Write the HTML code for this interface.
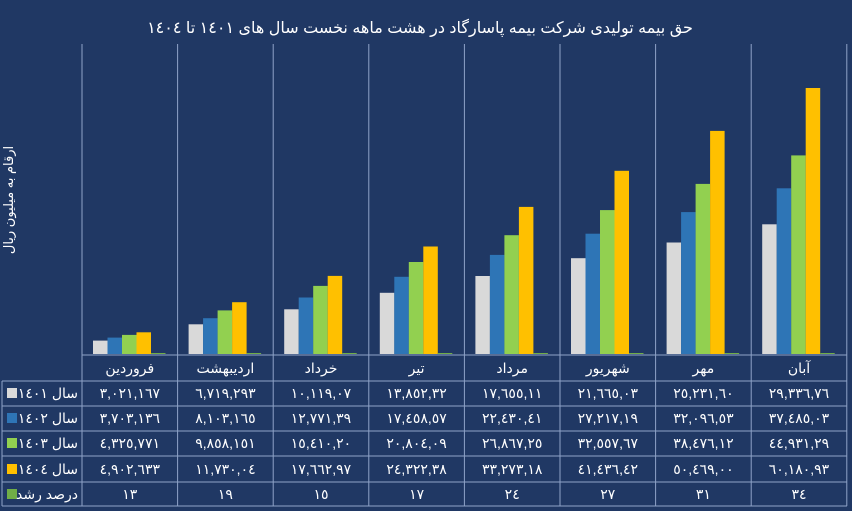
<!DOCTYPE html>
<html><head><meta charset="utf-8"><style>
html,body{margin:0;padding:0;background:#203864;}
svg{display:block;font-family:"Liberation Sans","Noto Sans CJK SC","DejaVu Sans",sans-serif;}
</style></head><body>
<svg width="852" height="511" viewBox="0 0 852 511" xmlns="http://www.w3.org/2000/svg">
<rect width="852" height="511" fill="#203864"/>
<text x="420" y="33" fill="#fff" font-size="16" text-anchor="middle" direction="rtl">حق بیمه تولیدی شرکت بیمه پاسارگاد در هشت ماهه نخست سال های ١٤٠١ تا ١٤٠٤</text>
<text transform="translate(13,200) rotate(-90)" fill="#fff" font-size="13" text-anchor="middle" direction="rtl">ارقام به میلیون ریال</text>
<g stroke="#8fa3c8" stroke-width="1">
<line x1="82" y1="44" x2="82" y2="506"/><line x1="177.6" y1="44" x2="177.6" y2="506"/><line x1="273.2" y1="44" x2="273.2" y2="506"/><line x1="368.8" y1="44" x2="368.8" y2="506"/><line x1="464.4" y1="44" x2="464.4" y2="506"/><line x1="560" y1="44" x2="560" y2="506"/><line x1="655.6" y1="44" x2="655.6" y2="506"/><line x1="751.2" y1="44" x2="751.2" y2="506"/><line x1="846.8" y1="44" x2="846.8" y2="506"/>
<line x1="2" y1="381" x2="2" y2="506"/>
<line x1="82" y1="355" x2="847" y2="355"/>
<line x1="2" y1="381" x2="847" y2="381"/><line x1="2" y1="406" x2="847" y2="406"/><line x1="2" y1="431" x2="847" y2="431"/><line x1="2" y1="456" x2="847" y2="456"/><line x1="2" y1="482" x2="847" y2="482"/><line x1="2" y1="506" x2="847" y2="506"/>
</g>
<g>
<rect x="93" y="340.6" width="14.5" height="13.4" fill="#d9d9d9"/><rect x="107.5" y="337.6" width="14.5" height="16.4" fill="#2e75b6"/><rect x="122" y="334.9" width="14.5" height="19.1" fill="#92d050"/><rect x="136.5" y="332.3" width="14.5" height="21.7" fill="#ffc000"/>
<rect x="188.6" y="324.3" width="14.5" height="29.7" fill="#d9d9d9"/><rect x="203.1" y="318.2" width="14.5" height="35.8" fill="#2e75b6"/><rect x="217.6" y="310.4" width="14.5" height="43.6" fill="#92d050"/><rect x="232.1" y="302.2" width="14.5" height="51.8" fill="#ffc000"/>
<rect x="284.2" y="309.3" width="14.5" height="44.7" fill="#d9d9d9"/><rect x="298.7" y="297.5" width="14.5" height="56.5" fill="#2e75b6"/><rect x="313.2" y="285.9" width="14.5" height="68.1" fill="#92d050"/><rect x="327.7" y="275.9" width="14.5" height="78.1" fill="#ffc000"/>
<rect x="379.8" y="292.8" width="14.5" height="61.2" fill="#d9d9d9"/><rect x="394.3" y="276.8" width="14.5" height="77.2" fill="#2e75b6"/><rect x="408.8" y="262" width="14.5" height="92" fill="#92d050"/><rect x="423.3" y="246.5" width="14.5" height="107.5" fill="#ffc000"/>
<rect x="475.4" y="276" width="14.5" height="78" fill="#d9d9d9"/><rect x="489.9" y="254.9" width="14.5" height="99.1" fill="#2e75b6"/><rect x="504.4" y="235.2" width="14.5" height="118.8" fill="#92d050"/><rect x="518.9" y="206.9" width="14.5" height="147.1" fill="#ffc000"/>
<rect x="571" y="258.2" width="14.5" height="95.8" fill="#d9d9d9"/><rect x="585.5" y="233.7" width="14.5" height="120.3" fill="#2e75b6"/><rect x="600" y="210.1" width="14.5" height="143.9" fill="#92d050"/><rect x="614.5" y="170.8" width="14.5" height="183.2" fill="#ffc000"/>
<rect x="666.6" y="242.5" width="14.5" height="111.5" fill="#d9d9d9"/><rect x="681.1" y="212.1" width="14.5" height="141.9" fill="#2e75b6"/><rect x="695.6" y="183.9" width="14.5" height="170.1" fill="#92d050"/><rect x="710.1" y="130.9" width="14.5" height="223.1" fill="#ffc000"/>
<rect x="762.2" y="224.3" width="14.5" height="129.7" fill="#d9d9d9"/><rect x="776.7" y="188.3" width="14.5" height="165.7" fill="#2e75b6"/><rect x="791.2" y="155.4" width="14.5" height="198.6" fill="#92d050"/><rect x="805.7" y="88" width="14.5" height="266" fill="#ffc000"/>
</g>
<g fill="#70ad47">
<rect x="151" y="353" width="14.5" height="1"/><rect x="246.6" y="353" width="14.5" height="1"/><rect x="342.2" y="353" width="14.5" height="1"/><rect x="437.8" y="353" width="14.5" height="1"/><rect x="533.4" y="353" width="14.5" height="1"/><rect x="629" y="353" width="14.5" height="1"/><rect x="724.6" y="353" width="14.5" height="1"/><rect x="820.2" y="353" width="14.5" height="1"/>
</g>
<g fill="#fff" font-size="14" text-anchor="middle" direction="rtl">
<text x="129.8" y="373">فروردین</text><text x="225.4" y="373">اردیبهشت</text><text x="321" y="373">خرداد</text><text x="416.6" y="373">تیر</text><text x="512.2" y="373">مرداد</text><text x="607.8" y="373">شهریور</text><text x="703.4" y="373">مهر</text><text x="799" y="373">آبان</text>
</g>
<g fill="#fff" font-size="14" text-anchor="middle">
<text x="129.8" y="398">٣,٠٢١,١٦٧</text><text x="225.4" y="398">٦,٧١٩,٢٩٣</text><text x="321" y="398">١٠,١١٩,٠٧</text><text x="416.6" y="398">١٣,٨٥٢,٣٢</text><text x="512.2" y="398">١٧,٦٥٥,١١</text><text x="607.8" y="398">٢١,٦٦٥,٠٣</text><text x="703.4" y="398">٢٥,٢٣١,٦٠</text><text x="799" y="398">٢٩,٣٣٦,٧٦</text>
<text x="129.8" y="423">٣,٧٠٣,١٣٦</text><text x="225.4" y="423">٨,١٠٣,١٦٥</text><text x="321" y="423">١٢,٧٧١,٣٩</text><text x="416.6" y="423">١٧,٤٥٨,٥٧</text><text x="512.2" y="423">٢٢,٤٣٠,٤١</text><text x="607.8" y="423">٢٧,٢١٧,١٩</text><text x="703.4" y="423">٣٢,٠٩٦,٥٣</text><text x="799" y="423">٣٧,٤٨٥,٠٣</text>
<text x="129.8" y="448">٤,٣٢٥,٧٧١</text><text x="225.4" y="448">٩,٨٥٨,١٥١</text><text x="321" y="448">١٥,٤١٠,٢٠</text><text x="416.6" y="448">٢٠,٨٠٤,٠٩</text><text x="512.2" y="448">٢٦,٨٦٧,٢٥</text><text x="607.8" y="448">٣٢,٥٥٧,٦٧</text><text x="703.4" y="448">٣٨,٤٧٦,١٢</text><text x="799" y="448">٤٤,٩٣١,٢٩</text>
<text x="129.8" y="474">٤,٩٠٢,٦٣٣</text><text x="225.4" y="474">١١,٧٣٠,٠٤</text><text x="321" y="474">١٧,٦٦٢,٩٧</text><text x="416.6" y="474">٢٤,٣٢٢,٣٨</text><text x="512.2" y="474">٣٣,٢٧٣,١٨</text><text x="607.8" y="474">٤١,٤٣٦,٤٢</text><text x="703.4" y="474">٥٠,٤٦٩,٠٠</text><text x="799" y="474">٦٠,١٨٠,٩٣</text>
<text x="129.8" y="499">١٣</text><text x="225.4" y="499">١٩</text><text x="321" y="499">١٥</text><text x="416.6" y="499">١٧</text><text x="512.2" y="499">٢٤</text><text x="607.8" y="499">٢٧</text><text x="703.4" y="499">٣١</text><text x="799" y="499">٣٤</text>
</g>
<rect x="7" y="388" width="10" height="10" fill="#d9d9d9"/>
<rect x="7" y="413" width="10" height="10" fill="#2e75b6"/>
<rect x="7" y="438" width="10" height="10" fill="#92d050"/>
<rect x="7" y="464" width="10" height="10" fill="#ffc000"/>
<rect x="7" y="489" width="10" height="10" fill="#70ad47"/>
<g fill="#fff" font-size="14" text-anchor="end">
<text x="78" y="398">سال ١٤٠١</text><text x="78" y="423">سال ١٤٠٢</text><text x="78" y="448">سال ١٤٠٣</text><text x="78" y="474">سال ١٤٠٤</text><text x="78" y="499" direction="rtl" text-anchor="start">درصد رشد</text>
</g>
</svg>
</body></html>
